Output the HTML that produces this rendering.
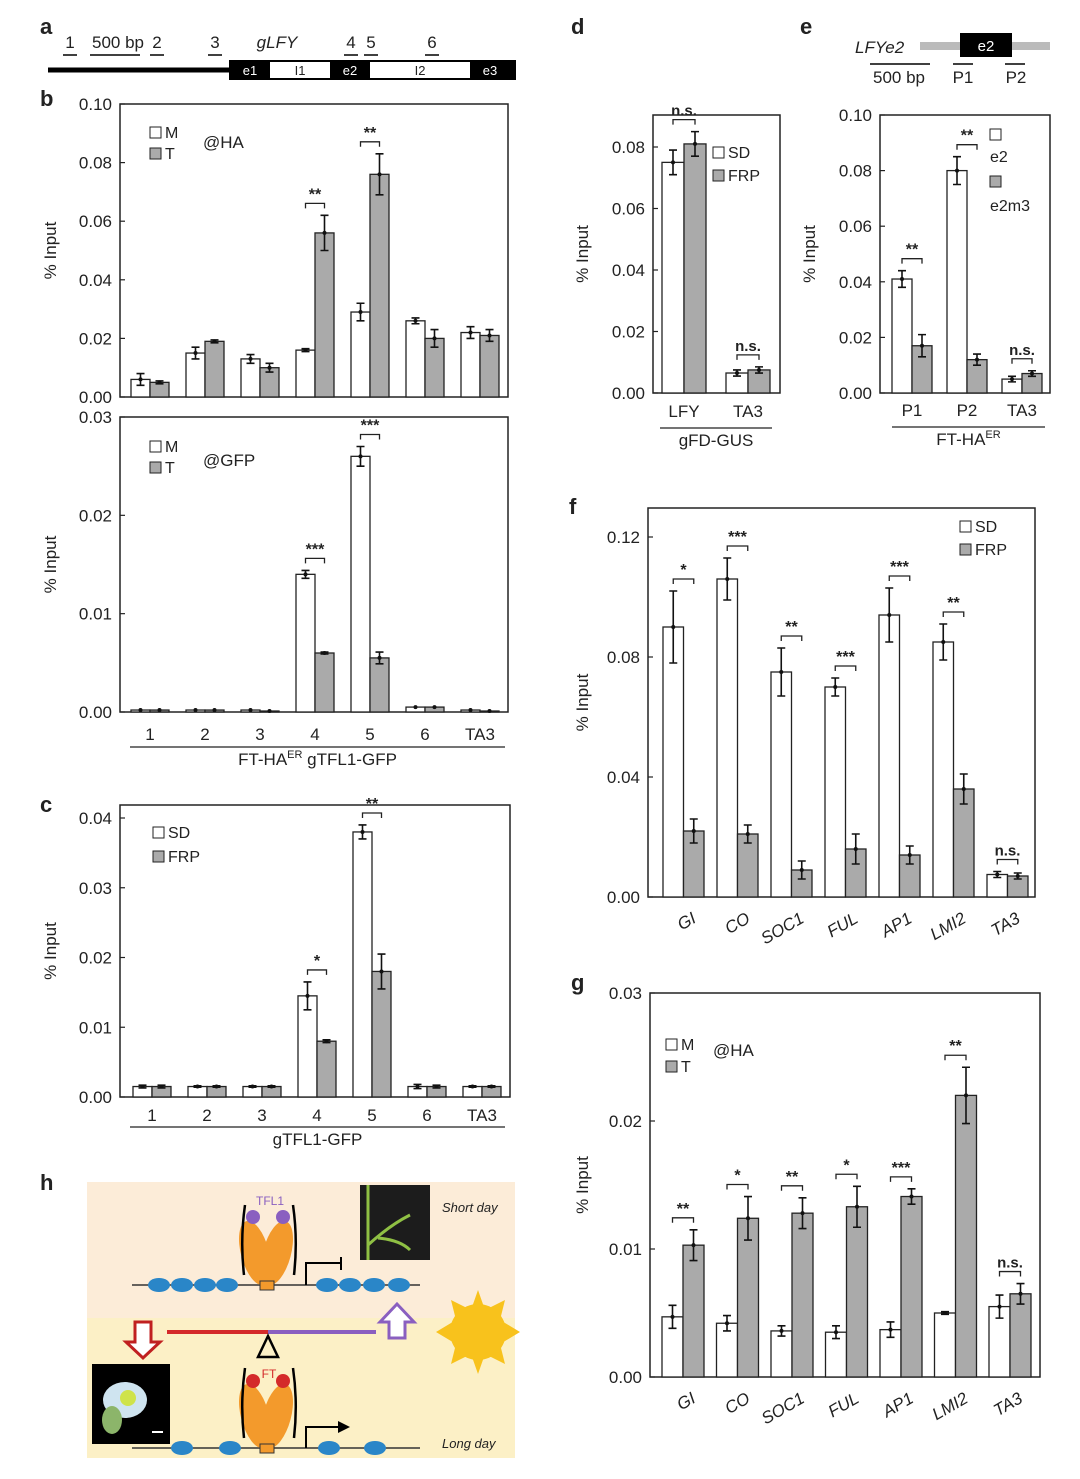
<!DOCTYPE html>
<html><head><meta charset="utf-8"><style>
body{margin:0;background:#fff}
svg text{font-family:"Liberation Sans",sans-serif;fill:#222}
</style></head><body>
<svg id="fig" width="1080" height="1474" xmlns="http://www.w3.org/2000/svg">
<!-- panel letters -->
<g font-weight="bold" font-size="22">
<text x="40" y="34">a</text><text x="40" y="106">b</text><text x="40" y="812">c</text><text x="40" y="1190">h</text>
<text x="571" y="34">d</text><text x="800" y="34">e</text><text x="569" y="514">f</text><text x="571" y="990">g</text>
</g>
<!-- panel a gene diagram -->
<g font-size="17">
<line x1="48" y1="70" x2="232" y2="70" stroke="#000" stroke-width="5"/>
<rect x="230" y="61" width="285" height="18" fill="#fff" stroke="#000" stroke-width="2"/>
<rect x="230" y="61" width="40" height="18" fill="#000"/>
<rect x="330" y="61" width="40" height="18" fill="#000"/>
<rect x="470" y="61" width="45" height="18" fill="#000"/>
<g font-size="13" text-anchor="middle"><text x="250" y="75" style="fill:#fff">e1</text><text x="300" y="75">I1</text><text x="350" y="75" style="fill:#fff">e2</text><text x="420" y="75">I2</text><text x="490" y="75" style="fill:#fff">e3</text></g>
<g text-anchor="middle"><text x="70" y="48">1</text><text x="118" y="48">500 bp</text><text x="157" y="48">2</text><text x="215" y="48">3</text><text x="277" y="48" font-style="italic">gLFY</text><text x="351" y="48">4</text><text x="371" y="48">5</text><text x="432" y="48">6</text></g>
<g stroke="#000" stroke-width="1.5"><line x1="63" y1="55" x2="77" y2="55"/><line x1="90" y1="55" x2="140" y2="55"/><line x1="150" y1="55" x2="164" y2="55"/><line x1="208" y1="55" x2="222" y2="55"/><line x1="344" y1="55" x2="358" y2="55"/><line x1="364" y1="55" x2="378" y2="55"/><line x1="425" y1="55" x2="439" y2="55"/></g>
</g>
<!-- panel e gene diagram -->
<g font-size="17">
<rect x="920" y="42" width="130" height="8" fill="#bbb"/>
<rect x="960" y="33" width="52" height="24" fill="#000"/>
<text x="986" y="51" text-anchor="middle" style="fill:#fff" font-size="15">e2</text>
<text x="855" y="53" font-style="italic">LFYe2</text>
<g text-anchor="middle"><text x="899" y="83">500 bp</text><text x="963" y="83">P1</text><text x="1016" y="83">P2</text></g>
<g stroke="#000" stroke-width="1.5"><line x1="870" y1="64" x2="930" y2="64"/><line x1="953" y1="64" x2="973" y2="64"/><line x1="1005" y1="64" x2="1025" y2="64"/></g>
</g>
<g id="charts"></g>
<!-- panel h -->
<g>
<rect x="87" y="1182" width="428" height="136" fill="#fcecd8"/>
<rect x="87" y="1318" width="428" height="140" fill="#fcf0c6"/>
<line x1="132" y1="1285" x2="420" y2="1285" stroke="#333" stroke-width="1.5"/>
<g fill="#2a86c8"><ellipse cx="159" cy="1285" rx="11" ry="7"/><ellipse cx="182" cy="1285" rx="11" ry="7"/><ellipse cx="205" cy="1285" rx="11" ry="7"/><ellipse cx="227" cy="1285" rx="11" ry="7"/><ellipse cx="327" cy="1285" rx="11" ry="7"/><ellipse cx="350" cy="1285" rx="11" ry="7"/><ellipse cx="374" cy="1285" rx="11" ry="7"/><ellipse cx="399" cy="1285" rx="11" ry="7"/></g>
<ellipse cx="255" cy="1253" rx="14" ry="33" fill="#f39a2c" transform="rotate(-15 255 1253)"/>
<ellipse cx="277" cy="1253" rx="14" ry="33" fill="#f39a2c" transform="rotate(15 277 1253)"/>
<circle cx="253" cy="1217" r="7" fill="#8a5fc0"/><circle cx="283" cy="1217" r="7" fill="#8a5fc0"/>
<text x="270" y="1205" text-anchor="middle" font-size="12" style="fill:#8a5fc0">TFL1</text>
<path d="M245 1205 Q240 1240 244 1275 M293 1205 Q298 1240 294 1275" stroke="#000" stroke-width="2.5" fill="none"/>
<rect x="260" y="1281" width="14" height="9" fill="#f39a2c" stroke="#333"/>
<path d="M306 1285 V1263 H341 M341 1257 V1270" stroke="#000" stroke-width="2" fill="none"/>
<rect x="360" y="1185" width="70" height="75" fill="#1c1c1c"/>
<path d="M368 1185 V1260 M368 1245 Q390 1225 410 1215 M378 1238 Q400 1240 410 1250" stroke="#8fc044" stroke-width="3" fill="none"/>
<text x="442" y="1212" font-size="13" font-style="italic">Short day</text>
<line x1="167" y1="1332" x2="268" y2="1332" stroke="#d42a2a" stroke-width="4"/>
<line x1="268" y1="1332" x2="376" y2="1332" stroke="#8a5fc0" stroke-width="4"/>
<path d="M135 1322 H151 V1342 H160 L143 1358 L126 1342 H135 Z" fill="#fff" stroke="#c02020" stroke-width="3"/>
<path d="M389 1338 H405 V1322 H414 L397 1304 L380 1322 H389 Z" fill="#fff" stroke="#8a5fc0" stroke-width="3"/>
<path d="M268 1336 L278 1357 H258 Z" fill="none" stroke="#000" stroke-width="2.5"/>
<circle cx="478" cy="1332" r="28" fill="#f8c21c"/>
<polygon points="478,1290 485,1310 505,1300 500,1320 520,1332 500,1344 505,1364 485,1354 478,1374 471,1354 451,1364 456,1344 436,1332 456,1320 451,1300 471,1310" fill="#f8c21c"/>
<rect x="92" y="1364" width="78" height="80" fill="#000"/>
<ellipse cx="125" cy="1400" rx="22" ry="18" fill="#cfe4f0"/><circle cx="128" cy="1398" r="8" fill="#cfe34a"/><ellipse cx="112" cy="1420" rx="10" ry="14" fill="#8cb56a"/>
<line x1="152" y1="1432" x2="163" y2="1432" stroke="#fff" stroke-width="2"/>
<line x1="132" y1="1448" x2="420" y2="1448" stroke="#333" stroke-width="1.5"/>
<g fill="#2a86c8"><ellipse cx="182" cy="1448" rx="11" ry="7"/><ellipse cx="230" cy="1448" rx="11" ry="7"/><ellipse cx="329" cy="1448" rx="11" ry="7"/><ellipse cx="375" cy="1448" rx="11" ry="7"/></g>
<ellipse cx="255" cy="1416" rx="14" ry="33" fill="#f39a2c" transform="rotate(-15 255 1416)"/>
<ellipse cx="277" cy="1416" rx="14" ry="33" fill="#f39a2c" transform="rotate(15 277 1416)"/>
<circle cx="253" cy="1381" r="7" fill="#d42a2a"/><circle cx="283" cy="1381" r="7" fill="#d42a2a"/>
<text x="269" y="1378" text-anchor="middle" font-size="12" style="fill:#d42a2a">FT</text>
<path d="M245 1368 Q240 1403 244 1438 M293 1368 Q298 1403 294 1438" stroke="#000" stroke-width="2.5" fill="none"/>
<rect x="260" y="1444" width="14" height="9" fill="#f39a2c" stroke="#333"/>
<path d="M306 1448 V1427 H340" stroke="#000" stroke-width="2" fill="none"/><path d="M338 1421 L350 1427 L338 1433 Z" fill="#000"/>
<text x="442" y="1448" font-size="13" font-style="italic">Long day</text>
</g>
</svg>
<script>
// ---- data ----
const bCats=["1","2","3","4","5","6","TA3"];
const bHaM=[0.006,0.015,0.013,0.016,0.029,0.026,0.022];
const bHaT=[0.005,0.019,0.010,0.056,0.076,0.020,0.021];
const bHaMErr=[0.002,0.002,0.0015,0.0005,0.003,0.001,0.002];
const bHaTErr=[0.0005,0.0005,0.0015,0.006,0.007,0.003,0.002];
const bHaSig=["","","","**","**","",""];
const bGfpM=[0.0002,0.0002,0.0002,0.014,0.026,0.0005,0.0002];
const bGfpT=[0.0002,0.0002,0.0001,0.006,0.0055,0.0005,0.0001];
const bGfpMErr=[0,0,0,0.0004,0.001,0,0];
const bGfpTErr=[0,0,0,0.0001,0.0006,0,0];
const bGfpSig=["","","","***","***","",""];
const cSD=[0.0015,0.0015,0.0015,0.0145,0.038,0.0015,0.0015];
const cFRP=[0.0015,0.0015,0.0015,0.008,0.018,0.0015,0.0015];
const cSDErr=[0.0002,0.0001,0.0001,0.002,0.001,0.0003,0.0001];
const cFRPErr=[0.0002,0.0001,0.0001,0.0002,0.0025,0.0002,0.0001];
const cSig=["","","","*","**","",""];
const dCats=["LFY","TA3"];
const dSD=[0.075,0.0065];const dFRP=[0.081,0.0075];
const dSDErr=[0.004,0.001];const dFRPErr=[0.004,0.001];
const dSig=["n.s.","n.s."];
const eCats=["P1","P2","TA3"];
const eE2=[0.041,0.080,0.005];const eE2m3=[0.017,0.012,0.007];
const eE2Err=[0.003,0.005,0.001];const eE2m3Err=[0.004,0.002,0.001];
const eSig=["**","**","n.s."];
const fCats=["GI","CO","SOC1","FUL","AP1","LMI2","TA3"];
const fSD=[0.090,0.106,0.075,0.070,0.094,0.085,0.0075];
const fFRP=[0.022,0.021,0.009,0.016,0.014,0.036,0.007];
const fSDErr=[0.012,0.007,0.008,0.003,0.009,0.006,0.001];
const fFRPErr=[0.004,0.003,0.003,0.005,0.003,0.005,0.001];
const fSig=["*","***","**","***","***","**","n.s."];
const gM=[0.0047,0.0042,0.0036,0.0035,0.0037,0.005,0.0055];
const gT=[0.0103,0.0124,0.0128,0.0133,0.0141,0.022,0.0065];
const gMErr=[0.0009,0.0006,0.0004,0.0005,0.0006,0.0001,0.0009];
const gTErr=[0.0012,0.0017,0.0012,0.0016,0.0006,0.0022,0.0008];
const gSig=["**","*","**","*","***","**","n.s."];

const NS="http://www.w3.org/2000/svg";
const root=document.getElementById('charts');
function mk(tag,attrs,parent,txt){const e=document.createElementNS(NS,tag);for(const k in attrs)e.setAttribute(k,attrs[k]);if(txt!==undefined)e.textContent=txt;(parent||root).appendChild(e);return e;}

function chart(o){
  const g=mk('g',{});
  
  
  const sc=(o.zero-o.topPx)/o.topVal;
  const y=v=>o.zero-v*sc;
  mk('rect',{x:o.L,y:o.T,width:o.R-o.L,height:o.zero-o.T,fill:'none',stroke:'#222','stroke-width':1.5},g);
  o.ticks.forEach((t,i)=>{
    const tk=mk('line',{x1:o.L,x2:o.L+5,y1:y(t),y2:y(t),stroke:'#222','stroke-width':1.2},g);
    
    
    const lb=mk('text',{x:o.L-8,y:y(t)+6,'text-anchor':'end','font-size':17},g,o.tickLabels[i]);
    
    
  });
  const yt=mk('text',{transform:`translate(${o.yLabX},${(o.T+o.zero)/2}) rotate(-90)`,'text-anchor':'middle','font-size':17},g,'% Input');
  
  
  o.a.forEach((v,i)=>{
    const x=o.gx0+i*o.step;
    [[v,o.aErr[i],'#fff',x],[o.b[i],o.bErr[i],'#aaa',x+o.bw]].forEach(([val,err,fill,bx],k)=>{
      const r=mk('rect',{x:bx,y:y(val),width:o.bw,height:o.zero-y(val),fill:fill,stroke:'#222','stroke-width':1.3},g);
      
      
      if(err>0){const cx=bx+o.bw/2;
        mk('path',{d:`M${cx} ${y(val+err)}V${y(val-err)}M${cx-4} ${y(val+err)}H${cx+4}M${cx-4} ${y(val-err)}H${cx+4}`,stroke:'#111','stroke-width':1.6,fill:'none'},g);}
      mk('circle',{cx:bx+o.bw/2,cy:y(val),r:2,fill:'#111'},g);
    });
    const s=o.sig[i];
    if(s){const top=Math.max(v+o.aErr[i],o.b[i]+o.bErr[i]);const sy=y(top)-12;
      mk('path',{d:`M${x+o.bw/2} ${sy+5}V${sy}H${x+1.5*o.bw}V${sy+5}`,stroke:'#222','stroke-width':1.3,fill:'none'},g);
      const st=mk('text',{x:x+o.bw,y:sy-4,'text-anchor':'middle','font-size':s==='n.s.'?15:16,'font-weight':'bold'},g,s);
      
      }
    if(o.cats){
      const cx=x+o.bw, cy=o.catY;
      const t=mk('text',{x:cx,y:cy,'text-anchor':'middle','font-size':17},g,o.cats[i]);
      if(o.rot){t.setAttribute('transform',`rotate(-30 ${cx} ${cy})`);t.setAttribute('font-style','italic');t.setAttribute('text-anchor','end');t.setAttribute('x',cx+10);t.setAttribute('y',cy+10);}
      
      
    }
  });
  if(o.legend){o.legend.forEach((l,i)=>{
    const ly=o.legY+i*o.legDy;
    const sw=mk('rect',{x:o.legX,y:ly-11,width:11,height:11,fill:i?'#aaa':'#fff',stroke:'#222'},g);
    
    
    const lt=mk('text',{x:o.legX+15,y:ly,'font-size':16},g,l);
    
    
  });}
  if(o.note){mk('text',{x:o.note[0],y:o.note[1],'font-size':17},g,o.note[2]);}
  if(o.group){mk('line',{x1:o.group[0],x2:o.group[1],y1:o.group[2],y2:o.group[2],stroke:'#222','stroke-width':1.3},g);
    const gt=mk('text',{x:(o.group[0]+o.group[1])/2,y:o.group[2]+18,'text-anchor':'middle','font-size':17},g);
    gt.innerHTML=o.group[3];
    
    }
  return g;
}
chart({name:'chart-b-ha',L:120,R:508,T:104,zero:397,topPx:104,topVal:0.10,ticks:[0,0.02,0.04,0.06,0.08,0.10],tickLabels:["0.00","0.02","0.04","0.06","0.08","0.10"],yLabX:56,gx0:131,step:55,bw:19,a:bHaM,b:bHaT,aErr:bHaMErr,bErr:bHaTErr,sig:bHaSig,legend:["M","T"],legX:150,legY:138,legDy:21,note:[203,148,'@HA']});
chart({name:'chart-b-gfp',L:120,R:508,T:417,zero:712,topPx:417,topVal:0.03,ticks:[0,0.01,0.02,0.03],tickLabels:["0.00","0.01","0.02","0.03"],yLabX:56,gx0:131,step:55,bw:19,a:bGfpM,b:bGfpT,aErr:bGfpMErr,bErr:bGfpTErr,sig:bGfpSig,cats:bCats,catY:740,legend:["M","T"],legX:150,legY:452,legDy:21,note:[203,466,'@GFP'],group:[130,505,747,'FT-HA<tspan dy="-7" font-size="11">ER</tspan><tspan dy="7"> gTFL1-GFP</tspan>']});
chart({name:'chart-c',L:120,R:510,T:805,zero:1097,topPx:818,topVal:0.04,ticks:[0,0.01,0.02,0.03,0.04],tickLabels:["0.00","0.01","0.02","0.03","0.04"],yLabX:56,gx0:133,step:55,bw:19,a:cSD,b:cFRP,aErr:cSDErr,bErr:cFRPErr,sig:cSig,cats:bCats,catY:1121,legend:["SD","FRP"],legX:153,legY:838,legDy:24,group:[130,505,1127,'gTFL1-GFP']});
chart({name:'chart-d',L:653,R:780,T:115,zero:393,topPx:147,topVal:0.08,ticks:[0,0.02,0.04,0.06,0.08],tickLabels:["0.00","0.02","0.04","0.06","0.08"],yLabX:588,gx0:662,step:64,bw:22,a:dSD,b:dFRP,aErr:dSDErr,bErr:dFRPErr,sig:dSig,cats:dCats,catY:417,legend:["SD","FRP"],legX:713,legY:158,legDy:23,group:[660,772,428,'gFD-GUS']});
chart({name:'chart-e',L:880,R:1050,T:115,zero:393,topPx:115,topVal:0.10,ticks:[0,0.02,0.04,0.06,0.08,0.10],tickLabels:["0.00","0.02","0.04","0.06","0.08","0.10"],yLabX:815,gx0:892,step:55,bw:20,a:eE2,b:eE2m3,aErr:eE2Err,bErr:eE2m3Err,sig:eSig,cats:eCats,catY:416,legend:["",""],legX:990,legY:140,legDy:47,group:[892,1045,427,'FT-HA<tspan dy="-7" font-size="11">ER</tspan>']});
mk('text',{x:990,y:162,'font-size':16},null,'e2');mk('text',{x:990,y:211,'font-size':16},null,'e2m3');
chart({name:'chart-f',L:648,R:1035,T:508,zero:897,topPx:537,topVal:0.12,ticks:[0,0.04,0.08,0.12],tickLabels:["0.00","0.04","0.08","0.12"],yLabX:588,gx0:663,step:54,bw:20.5,a:fSD,b:fFRP,aErr:fSDErr,bErr:fFRPErr,sig:fSig,cats:fCats,catY:918,rot:true,legend:["SD","FRP"],legX:960,legY:532,legDy:23});
chart({name:'chart-g',L:650,R:1040,T:993,zero:1377,topPx:993,topVal:0.03,ticks:[0,0.01,0.02,0.03],tickLabels:["0.00","0.01","0.02","0.03"],yLabX:588,gx0:662,step:54.5,bw:21,a:gM,b:gT,aErr:gMErr,bErr:gTErr,sig:gSig,cats:fCats,catY:1398,rot:true,legend:["M","T"],legX:666,legY:1050,legDy:22,note:[713,1056,'@HA']});
</script>
</body></html>
